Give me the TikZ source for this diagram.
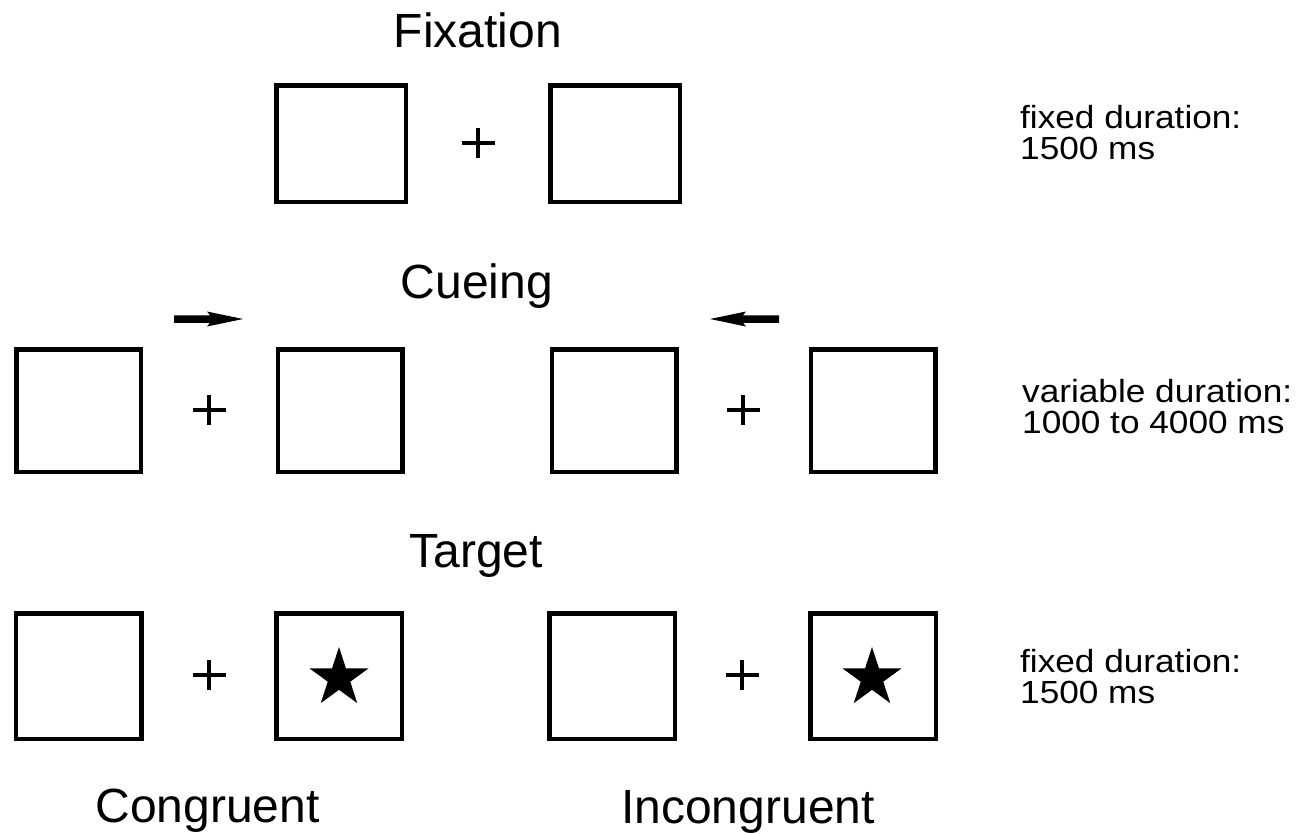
\documentclass[tikz,border=0pt]{standalone}
\usepackage{fontspec}
\setmainfont{Liberation Sans}
\newfontfamily\notefont[FakeStretch=1.1]{Liberation Sans}
\usetikzlibrary{shapes.geometric}

\begin{document}
\begin{tikzpicture}[x=1pt,y=-1pt,
  frame/.style={draw=black,line width=4.5pt,inner sep=0pt},
  fixframe/.style={frame,minimum width=129.5pt,minimum height=116.5pt},
  cueframe/.style={frame,minimum width=124.5pt,minimum height=122.5pt},
  tgtframe/.style={frame,minimum width=125.5pt,minimum height=125.5pt},
  title/.style={font=\fontsize{48}{56}\selectfont,inner sep=0pt,anchor=base},
  % two-line duration notes, placed by the baseline of their last line
  note/.style={font=\notefont\fontsize{32}{31}\selectfont,inner sep=0pt,
    align=left,anchor=base west},
  target star/.style={star,star points=5,star point ratio=2.618,fill=black,
    draw=none,inner sep=0pt,minimum size=62pt},
  fixcross/.pic={\draw[line width=4pt] (-16.5,0) -- (16.5,0) (0,-15) -- (0,15);},
  cuearrow/.pic={\fill (0,-3.75) -- (36,-3.75) -- (33,-7.5) -- (69,0) -- (33,7.5)
    -- (36,3.75) -- (0,3.75) -- cycle;}]
\useasboundingbox (0,0) rectangle (1315,833);

% --- Fixation display ---
\node[title] (tfix) at (478,47) {Fixation};
\node[fixframe] (f1) at (341,143.5) {};
\node[fixframe] (f2) at (615,143.5) {};
\pic at (478,143) {fixcross};
\node[note] (nf) at (1020,159) {fixed duration:\\1500 ms};

% --- Cueing display ---
\node[title] (tcue) at (477,298) {Cueing};
\node[cueframe] (c1) at (78.5,410.5) {};
\node[cueframe] (c2) at (340,410.5) {};
\node[cueframe] (c3) at (614,410.5) {};
\node[cueframe] (c4) at (873,410.5) {};
\pic at (209,410) {fixcross};
\pic at (743,410) {fixcross};
\pic at (174,319) {cuearrow};
\pic[xscale=-1] at (779,319) {cuearrow};
\node[note] (nc) at (1022,433) {variable duration:\\1000 to 4000 ms};

% --- Target display ---
\node[title] (ttgt) at (476,567) {Target};
\node[tgtframe] (g1) at (78.5,676) {};
\node[tgtframe] (g2) at (339,676) {};
\node[tgtframe] (g3) at (612,676) {};
\node[tgtframe] (g4) at (873,676) {};
\pic at (209,675) {fixcross};
\pic at (742,675) {fixcross};
\node[target star] (s1) at (339,678) {};
\node[target star] (s2) at (872,678) {};
\node[note] (nt) at (1020,703) {fixed duration:\\1500 ms};

% --- Condition labels ---
\node[title] (lcon) at (207.5,822) {Congruent};
\node[title] (linc) at (748,823) {Incongruent};
\end{tikzpicture}
\end{document}
